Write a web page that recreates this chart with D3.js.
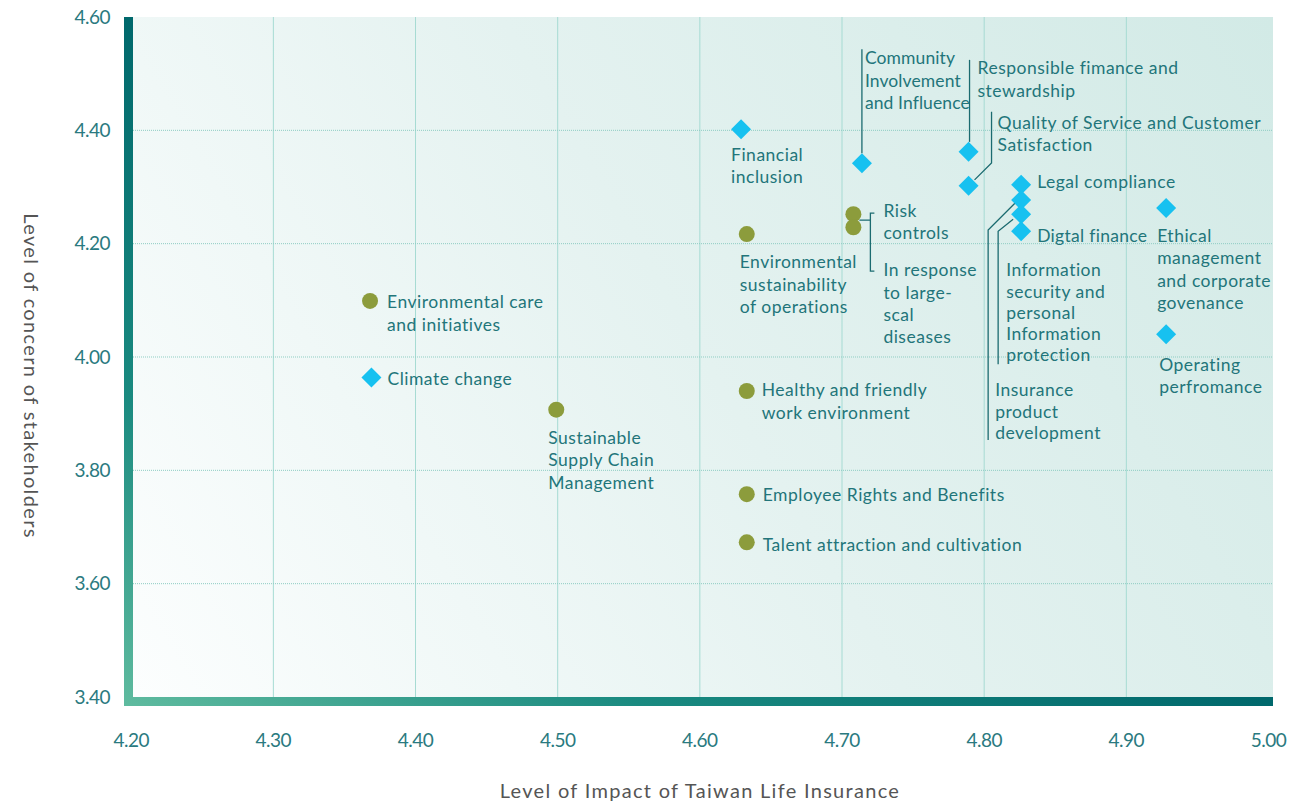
<!DOCTYPE html>
<html><head><meta charset="utf-8">
<script src="https://cdn.jsdelivr.net/npm/d3@7"></script>
<style>
body{margin:0;background:#fff;}
svg{display:block;}
text{font-family:Lato,"Open Sans",sans-serif;}
</style>
</head><body>
<svg id="chart" width="1290" height="805"></svg>
<script>
// ---------- data ----------
const topics = [
  "Environmental care and initiatives","Climate change","Sustainable Supply Chain Management",
  "Financial inclusion","Community Involvement and Influence","Responsible fimance and stewardship",
  "Quality of Service and Customer Satisfaction","Legal compliance","Insurance product development",
  "Information security and personal Information protection","Digtal finance",
  "Ethical management and corporate govenance","Operating perfromance",
  "Environmental sustainability of operations","Risk controls","In response to large-scal diseases",
  "Healthy and friendly work environment","Employee Rights and Benefits","Talent attraction and cultivation"
];
const impact  = [4.368,4.369,4.499,4.629,4.714,4.789,4.789,4.826,4.826,4.826,4.826,4.928,4.928,4.633,4.708,4.708,4.633,4.633,4.633];
const concern = [4.099,3.964,3.907,4.402,4.342,4.362,4.302,4.304,4.277,4.252,4.222,4.263,4.040,4.217,4.252,4.229,3.940,3.758,3.673];
const kind    = ["circle","diamond","circle","diamond","diamond","diamond","diamond","diamond","diamond","diamond","diamond","diamond","diamond","circle","circle","circle","circle","circle","circle"];
const labelLines = [
  ["Environmental care","and initiatives"],["Climate change"],["Sustainable","Supply Chain","Management"],
  ["Financial","inclusion"],["Community","Involvement","and Influence"],["Responsible fimance and","stewardship"],
  ["Quality of Service and Customer","Satisfaction"],["Legal compliance"],["Insurance","product","development"],
  ["Information","security and","personal","Information","protection"],["Digtal finance"],
  ["Ethical","management","and corporate","govenance"],["Operating","perfromance"],
  ["Environmental","sustainability","of operations"],["Risk","controls"],["In response","to large-","scal","diseases"],
  ["Healthy and friendly","work environment"],["Employee Rights and Benefits"],["Talent attraction and cultivation"]
];
const xTicks = [4.2,4.3,4.4,4.5,4.6,4.7,4.8,4.9,5.0];
const yTicks = [3.4,3.6,3.8,4.0,4.2,4.4,4.6];
const xTitle = "Level of Impact of Taiwan Life Insurance";
const yTitle = "Level of concern of stakeholders";

// ---------- layout (label offsets relative to point) ----------
const labelLayout = [
  {dx:17,dy:7,lh:23},{dx:16,dy:8,lh:22},{dx:-8,dy:34,lh:22.5},
  {dx:-10,dy:32,lh:22},{dx:3,dy:-99,lh:22.5,ls:0.1,leader:"M0,-10 L0,-114"},{dx:9,dy:-78,lh:23,leader:"M1,-10 L1,-92"},
  {dx:29,dy:-57,lh:22,leader:"M6,-6 L23,-23 L23,-74"},{dx:16,dy:3,lh:22},{dx:-26,dy:196,lh:21.5,leader:"M-6,3 L-33,30 L-33,240"},
  {dx:-15,dy:62,lh:21.3,leader:"M-8,5 L-23,17 L-23,150"},{dx:16,dy:11,lh:22,ls:0.3},
  {dx:-9,dy:34,lh:22.5},{dx:-7,dy:37,lh:22},
  {dx:-7,dy:34,lh:22.5},{dx:30,dy:3,lh:22,leader:"M6,6 L17,6 M21,-1 L17,-1 L17,57 L21,57"},{dx:30,dy:49,lh:22.3},
  {dx:15,dy:5,lh:23},{dx:16,dy:7,lh:22},{dx:16,dy:9,lh:22}
];

const svg = d3.select("#chart");
const x = d3.scaleLinear().domain([4.2,5.0]).range([131.2,1268.5]);
const y = d3.scaleLinear().domain([3.4,4.6]).range([697,17]);
const plot = {l:133,r:1273,t:17,b:697};

const defs = svg.append("defs");
const bg = defs.append("linearGradient").attr("id","bg").attr("gradientUnits","userSpaceOnUse")
  .attr("x1",plot.l).attr("y1",plot.b).attr("x2",plot.r).attr("y2",plot.t);
bg.append("stop").attr("offset",0).attr("stop-color","#fcfefe");
bg.append("stop").attr("offset",0.5).attr("stop-color","#e4f2f0");
bg.append("stop").attr("offset",1).attr("stop-color","#d2eae6");

const ax = defs.append("linearGradient").attr("id","ax").attr("gradientUnits","userSpaceOnUse")
  .attr("x1",124).attr("y1",706).attr("x2",428).attr("y2",199);
ax.append("stop").attr("offset",0).attr("stop-color","#5fbb9f");
ax.append("stop").attr("offset",0.45).attr("stop-color","#1a8a80");
ax.append("stop").attr("offset",1).attr("stop-color","#00686c");

svg.append("rect").attr("x",plot.l).attr("y",plot.t).attr("width",plot.r-plot.l).attr("height",plot.b-plot.t).attr("fill","url(#bg)");

// gridlines
svg.append("g").selectAll("line").data(xTicks.filter(d=>d>4.2&&d<5.0)).join("line")
  .attr("x1",d=>x(d)).attr("x2",d=>x(d)).attr("y1",plot.t).attr("y2",plot.b)
  .attr("stroke","#a6dbd3").attr("stroke-width",1);
svg.append("g").selectAll("line").data(yTicks.filter(d=>d>3.4&&d<4.6)).join("line")
  .attr("x1",plot.l).attr("x2",plot.r).attr("y1",d=>y(d)).attr("y2",d=>y(d))
  .attr("stroke","#8fcdc3").attr("stroke-width",1).attr("stroke-dasharray","1,1");

// axis bars
svg.append("path").attr("d",`M124,17 H133 V697 H1273 V706 H124 Z`).attr("fill","url(#ax)");

// tick labels
const tickColor = "#2a7a80";
svg.append("g").selectAll("text").data(yTicks).join("text")
  .attr("x",110).attr("y",d=>y(d)+6.5).attr("text-anchor","end")
  .attr("font-size",19).attr("letter-spacing",-0.5).attr("fill",tickColor).text(d=>d3.format(".2f")(d));
svg.append("g").selectAll("text").data(xTicks).join("text")
  .attr("x",d=>x(d)).attr("y",747).attr("text-anchor","middle")
  .attr("font-size",19).attr("letter-spacing",-0.5).attr("fill",tickColor).text(d=>d3.format(".2f")(d));

// axis titles
svg.append("text").attr("x",700).attr("y",798).attr("text-anchor","middle")
  .attr("font-size",20).attr("letter-spacing",1.3).attr("fill","#555").text(xTitle);
svg.append("text").attr("transform","translate(32,376) rotate(90)").attr("text-anchor","middle")
  .attr("dominant-baseline","central").attr("font-size",20).attr("letter-spacing",1.35).attr("fill","#555").text(yTitle);

const idx = d3.range(topics.length);
const px = i=>x(impact[i]), py = i=>y(concern[i]);

// leaders
svg.append("g").selectAll("path").data(idx.filter(i=>labelLayout[i].leader)).join("path")
  .attr("transform",i=>`translate(${px(i)},${py(i)})`).attr("d",i=>labelLayout[i].leader)
  .attr("fill","none").attr("stroke","#1b6b70").attr("stroke-width",1.3);

// points
const sym = d3.symbol().type(d3.symbolSquare).size(200);
svg.append("g").selectAll("path").data(idx.filter(i=>kind[i]==="diamond")).join("path")
  .attr("transform",i=>`translate(${px(i)},${py(i)}) rotate(45)`).attr("d",sym).attr("fill","#17c1f0");
svg.append("g").selectAll("circle").data(idx.filter(i=>kind[i]==="circle")).join("circle")
  .attr("cx",px).attr("cy",py).attr("r",8).attr("fill","#8c9c3c");

// labels
const lab = svg.append("g").selectAll("text").data(idx).join("text")
  .attr("font-size",17.5).attr("letter-spacing",i=>labelLayout[i].ls ?? 0.5).attr("fill","#22757a");
lab.each(function(i){
  const L = labelLayout[i];
  d3.select(this).selectAll("tspan").data(labelLines[i]).join("tspan")
    .attr("x",px(i)+L.dx).attr("y",(d,k)=>py(i)+L.dy+k*L.lh).text(d=>d);
});
</script>
</body></html>
